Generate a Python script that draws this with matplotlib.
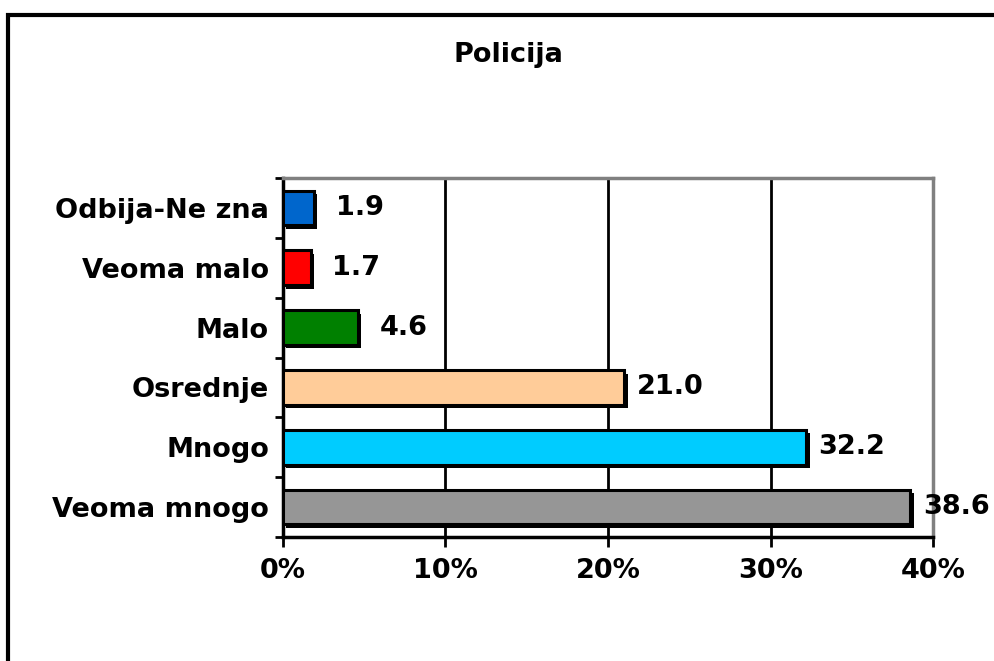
import matplotlib
matplotlib.use('Agg')
import matplotlib.pyplot as plt
import matplotlib.patheffects as pe
from matplotlib.patches import Rectangle

categories = ['Veoma mnogo', 'Mnogo', 'Osrednje', 'Malo', 'Veoma malo', 'Odbija-Ne zna']
values = [38.6, 32.2, 21.0, 4.6, 1.7, 1.9]
colors = ['#969696', '#00CCFF', '#FFCC99', '#008000', '#FF0000', '#0066CC']
xticks = [0, 10, 20, 30, 40]
xtick_labels = ['0%', '10%', '20%', '30%', '40%']

plt.rcParams['font.family'] = ['DejaVu Sans']
plt.rcParams['font.weight'] = 'bold'
FS = 19.5

fig = plt.figure(figsize=(9.95, 6.61), dpi=100)
# outer chart border (runs off the right and bottom edge)
fig.patches.append(Rectangle((0.008, -0.05), 1.1, 0.05 + 0.978, transform=fig.transFigure,
                             fill=False, edgecolor='black', linewidth=3, zorder=0))

ax = fig.add_axes([0.2844, 0.1876, 0.6533, 0.5431])
ypos = list(range(len(categories)))
bars = ax.barh(ypos, values, height=0.58, color=colors, edgecolor='black', linewidth=2.2, zorder=3)
for b in bars:
    b.set_path_effects([pe.SimplePatchShadow(offset=(2.5, -2.5), shadow_rgbFace='black', alpha=1.0),
                        pe.Normal()])

for y, v in zip(ypos, values):
    ax.annotate(f'{v:.1f}', xy=(v, y), xytext=(33, 0), textcoords='offset points',
                ha='center', va='center', fontsize=FS, fontweight='bold', zorder=4)

ax.set_xlim(0, 40)
ax.set_ylim(-0.5, len(categories) - 0.5)
ax.set_xticks(xticks)
ax.set_xticklabels(xtick_labels, fontsize=FS, fontweight='bold')
ax.set_yticks(ypos)
ax.set_yticklabels(categories, fontsize=FS, fontweight='bold')
ax.set_yticks([i - 0.5 for i in range(len(categories) + 1)], minor=True)
ax.tick_params(axis='y', which='major', length=0, pad=10)
ax.tick_params(axis='y', which='minor', length=6, width=2, direction='out')
ax.tick_params(axis='x', length=7, width=2, direction='out', pad=8)

for x in xticks[1:-1]:
    ax.axvline(x, color='black', linewidth=2, zorder=1)

ax.spines['left'].set_linewidth(2.5)
ax.spines['bottom'].set_linewidth(2.5)
ax.spines['top'].set_color('#808080')
ax.spines['right'].set_color('#808080')
ax.spines['top'].set_linewidth(2.5)
ax.spines['right'].set_linewidth(2.5)

fig.text(0.511, 0.917, 'Policija', ha='center', va='center', fontsize=FS, fontweight='bold')

fig.savefig('out.png', dpi=100)
